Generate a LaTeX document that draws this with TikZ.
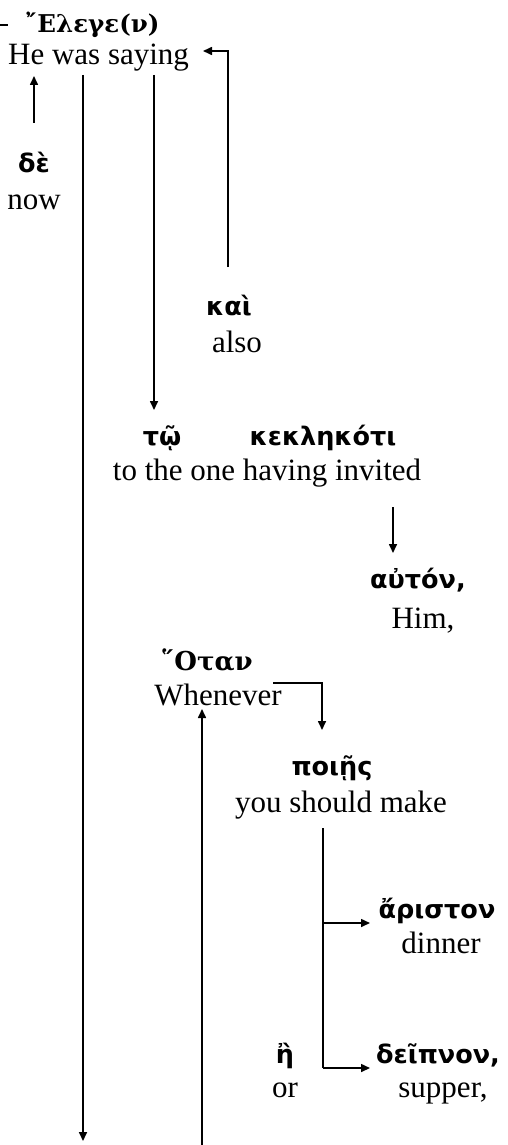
\documentclass[tikz,border=0pt]{standalone}
\usepackage{fontspec}
\setmainfont{Liberation Serif}
\newfontfamily\grk{DejaVu Sans}
\newfontfamily\grkserif{DejaVu Serif}
\usetikzlibrary{arrows.meta}
\begin{document}
\begin{tikzpicture}[x=1pt,y=-1pt,
  en/.style={font=\fontsize{31}{34}\selectfont, inner sep=0pt, anchor=base},
  gk/.style={font=\grk\bfseries\fontsize{25.5}{30}\selectfont, inner sep=0pt, anchor=base},
  gs/.style={font=\grkserif\bfseries\fontsize{26}{30}\selectfont, inner sep=0pt, anchor=base},
  conn/.style={line width=1.6pt},
  arr/.style={conn, -{Triangle[length=9pt,width=8pt]}}]
\useasboundingbox (0,0) rectangle (508,1145);
% texts
\node[gs, font=\grkserif\bfseries\fontsize{24.5}{30}\selectfont, anchor=base west] (elege) at (25,33) {῎Ελεγε(ν)};
\node[en, anchor=base west] (he) at (8,65) {He was saying};
\node[gk] (de) at (34,172) {δὲ};
\node[en] (now) at (34,209) {now};
\node[gk] (kai) at (229,315) {καὶ};
\node[en] (also) at (237,352) {also};
\node[gk] (tw) at (162,445) {τῷ};
\node[gk] (kekl) at (323,445) {κεκληκότι};
\node[en] (tothe) at (267,480) {to the one having invited};
\node[gk] (auton) at (418,588) {αὐτόν,};
\node[en] (him) at (423,628) {Him,};
\node[gs] (otan) at (207,670) {῞Οταν};
\node[en] (whenever) at (218,705) {Whenever};
\node[gk] (poih) at (332,775) {ποιῇς};
\node[en] (make) at (341,812) {you should make};
\node[gk] (ariston) at (437,918) {ἄριστον};
\node[en] (dinner) at (441,953) {dinner};
\node[gk] (eta) at (285,1063) {ἢ};
\node[en] (or) at (285,1097) {or};
\node[gk] (deipnon) at (438,1063) {δεῖπνον,};
\node[en] (supper) at (443,1097) {supper,};
% connector points
\coordinate (dashL) at (0,25);
\coordinate (dashR) at (8,25);
\coordinate (kaiTop) at (228,267);
\coordinate (sayTip) at (203,51);
\coordinate (deTop) at (34,123);
\coordinate (heUp) at (34,76);
\coordinate (heL) at (83,75);
\coordinate (endL) at (83,1141);
\coordinate (heM) at (154,75);
\coordinate (twTop) at (154,410);
\coordinate (invB) at (393,507);
\coordinate (autTop) at (393,553);
\coordinate (whR) at (273,683);
\coordinate (poiTop) at (322,730);
\coordinate (endW) at (202,1145);
\coordinate (whB) at (202,709);
\coordinate (makeB) at (323,828);
\coordinate (brA) at (323,923);
\coordinate (brD) at (323,1068);
\coordinate (aristL) at (370,923);
\coordinate (deipL) at (370,1068);
% connectors
\draw[conn] (dashL) -- (dashR);
\draw[arr] (kaiTop) |- (sayTip);
\draw[arr] (deTop) -- (heUp);
\draw[arr] (heL) -- (endL);
\draw[arr] (heM) -- (twTop);
\draw[arr] (invB) -- (autTop);
\draw[arr] (whR) -| (poiTop);
\draw[arr] (endW) -- (whB);
\draw[conn] (makeB) -- (brD);
\draw[arr] (brA) -- (aristL);
\draw[arr] (brD) -- (deipL);
\end{tikzpicture}
\end{document}
